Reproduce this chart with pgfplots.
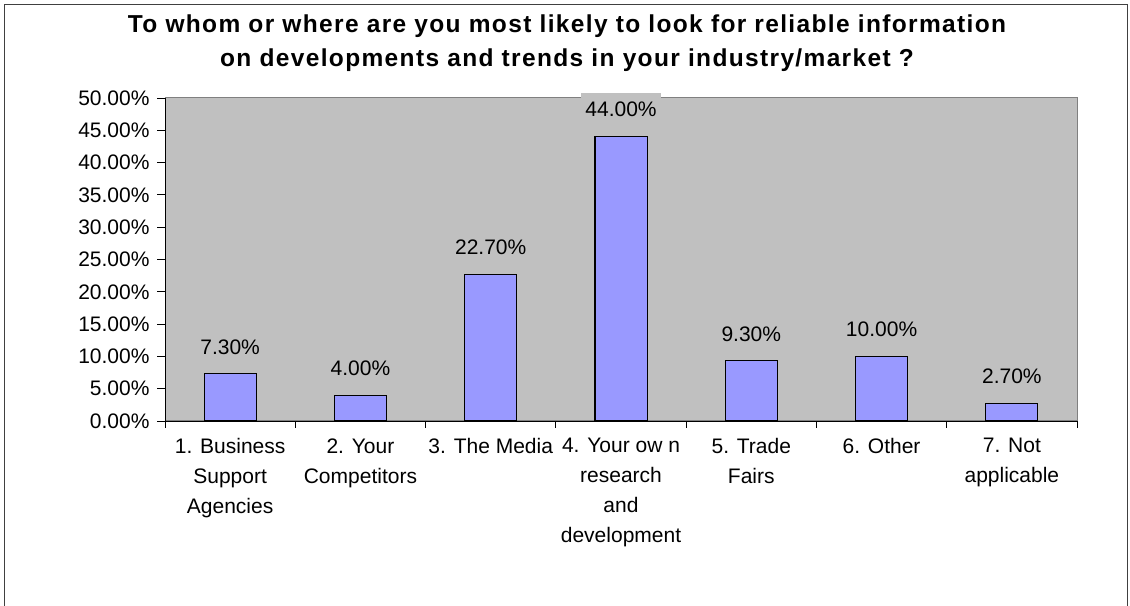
\documentclass[border=0pt]{standalone}
\usepackage{pgfplots}
\pgfplotsset{compat=1.18}
\usepackage{fontspec}
\setmainfont{Liberation Sans}
\newfontfamily\titlefont[LetterSpace=5.5]{Liberation Sans}
\definecolor{plotbg}{HTML}{C0C0C0}
\definecolor{barfill}{HTML}{9999FF}
\begin{document}
\begin{tikzpicture}[x=1bp,y=1bp]
\useasboundingbox (0,0) rectangle (1130,606);
\draw[black!75, line width=1.2bp] (4.5,-2) -- (4.5,601.5) -- (1127.5,601.5) -- (1127.5,-2);
\node[align=center, font={\titlefont\bfseries\fontsize{24.5bp}{34bp}\selectfont}] at (567,563)
  {To whom or where are you most likely to look for reliable information\\on developments and trends in your industry/market ?};
\begin{axis}[
  at={(165bp,185bp)}, anchor=south west,
  scale only axis, width=912bp, height=323bp,
  ybar, bar width=0.4,
  xmin=-0.5, xmax=6.5, ymin=0, ymax=50,
  enlargelimits=false, clip=false,
  axis x line=bottom, axis y line=left,
  axis line style={-, black, line width=0.8bp},
  axis background/.style={fill=plotbg, draw=gray, line width=1bp},
  tick align=outside,
  major tick length=8bp, minor tick length=7bp,
  tick style={black, line width=0.8bp},
  xtick={0,...,6},
  major x tick style={draw=none},
  minor xtick={-0.5,0.5,...,6.5},
  ytick={0,5,...,50},
  /pgf/number format/assume math mode=true,
  yticklabel={\pgfmathprintnumber[fixed,fixed zerofill,precision=2]{\tick}\%},
  tick label style={font=\fontsize{21bp}{30bp}\selectfont},
  yticklabel style={xshift=-4bp},
  xticklabel style={align=center, anchor=north, yshift=-6bp},
  xticklabels={{1. Business\\Support\\Agencies},{2. Your\\Competitors},{3. The Media},{4. Your ow n\\research\\and\\development},{5. Trade\\Fairs},{6. Other},{7. Not\\applicable}},
  nodes near coords={\pgfmathprintnumber[fixed,fixed zerofill,precision=2]{\pgfplotspointmeta}\%},
  every node near coord/.append style={font=\fontsize{21bp}{30bp}\selectfont, fill=plotbg, inner xsep=4bp, inner ysep=9bp, anchor=south, yshift=10bp},
]
\addplot[fill=barfill, draw=black, line width=1.1bp] coordinates {(0,7.3) (1,4.0) (2,22.7) (3,44.0) (4,9.3) (5,10.0) (6,2.7)};
\end{axis}
\end{tikzpicture}
\end{document}
